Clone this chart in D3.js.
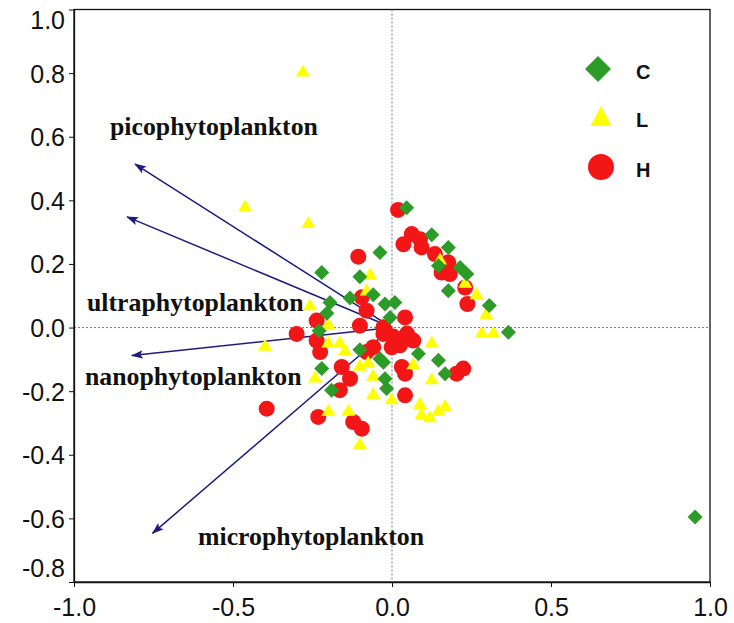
<!DOCTYPE html>
<html>
<head>
<meta charset="utf-8">
<script src="https://cdn.jsdelivr.net/npm/d3@7"></script>
<style>
  html, body { margin: 0; padding: 0; background: #fff; }
  svg { display: block; }
</style>
</head>
<body>
<svg id="chart" width="734" height="623"></svg>
<script>
// Ordination scores of samples, grouped by site class
const seriesNames = ["C", "L", "H"];
const seriesColors = ["#2d9b27", "#ffff00", "#f21616"];

const cPoints = [
  [0.953, -0.596], [0.046, 0.377], [0.125, 0.292], [0.177, 0.252], [0.146, 0.194],
  [0.214, 0.189], [0.235, 0.168], [0.177, 0.116], [0.306, 0.069], [0.366, -0.015],
  [-0.038, 0.236], [-0.022, 0.074], [0.009, 0.079], [-0.006, 0.032], [0.083, -0.082],
  [0.146, -0.103], [0.167, -0.145], [-0.022, -0.161], [-0.017, -0.192], [-0.221, 0.173],
  [-0.101, 0.160], [-0.132, 0.093], [-0.059, 0.103], [-0.195, 0.079], [-0.205, 0.045],
  [-0.229, -0.010], [-0.101, -0.070], [-0.038, -0.098], [-0.027, -0.109], [-0.221, -0.129],
  [-0.190, -0.197]
];

const lPoints = [
  [-0.280, 0.806], [-0.462, 0.382], [-0.263, 0.330], [-0.069, 0.168], [-0.080, 0.118],
  [-0.258, 0.071], [-0.200, 0.012], [0.151, 0.215], [0.230, 0.142], [0.266, 0.106],
  [0.296, 0.043], [0.282, -0.015], [0.319, -0.015], [0.125, -0.046], [0.067, -0.114],
  [0.125, -0.161], [-0.001, -0.224], [0.088, -0.239], [0.093, -0.271], [0.119, -0.281],
  [0.146, -0.260], [0.167, -0.245], [-0.399, -0.056], [-0.200, -0.046], [-0.164, -0.046],
  [-0.148, -0.070], [-0.075, -0.109], [-0.101, -0.119], [-0.242, -0.156], [-0.059, -0.150],
  [-0.059, -0.208], [-0.200, -0.260], [-0.137, -0.260], [-0.101, -0.365]
];

const hPoints = [
  [0.019, 0.370], [0.062, 0.294], [0.036, 0.262], [0.093, 0.252], [0.088, 0.278],
  [0.135, 0.231], [0.177, 0.205], [0.156, 0.173], [0.182, 0.168], [0.230, 0.126],
  [0.237, 0.074], [-0.106, 0.223], [-0.095, 0.095], [-0.080, 0.053], [-0.237, 0.022],
  [-0.101, 0.006], [-0.027, 0.001], [-0.300, -0.020], [-0.237, -0.041], [-0.226, -0.077],
  [-0.059, -0.062], [-0.080, -0.077], [-0.027, -0.020], [-0.001, -0.062], [0.015, -0.046],
  [-0.158, -0.124], [-0.132, -0.161], [-0.164, -0.197], [-0.394, -0.255], [-0.232, -0.281],
  [-0.122, -0.297], [-0.095, -0.318], [0.041, 0.032], [-0.022, -0.009], [0.067, -0.041],
  [0.025, -0.056], [0.031, -0.124], [0.041, -0.145], [0.203, -0.145], [0.224, -0.129],
  [0.041, -0.213], [0.003, -0.028], [0.047, -0.019]
];

// Size-class vectors
const vectorNames = ["picophytoplankton", "ultraphytoplankton", "nanophytoplankton", "microphytoplankton"];
const vectorEnds = [[-0.808, 0.514], [-0.833, 0.348], [-0.818, -0.088], [-0.753, -0.647]];

const xTicks = [-1.0, -0.5, 0.0, 0.5, 1.0];
const xTickLabels = ["-1.0", "-0.5", "0.0", "0.5", "1.0"];
const yTicks = [-0.8, -0.6, -0.4, -0.2, 0.0, 0.2, 0.4, 0.6, 0.8, 1.0];
const yTickLabels = ["-0.8", "-0.6", "-0.4", "-0.2", "0.0", "0.2", "0.4", "0.6", "0.8", "1.0"];

const svg = d3.select("#chart");
const x = d3.scaleLinear().domain([-1, 1]).range([74, 710]);
const y = d3.scaleLinear().domain([-0.8, 1.0]).range([582, 9.5]);

const tickFont = "Liberation Sans, Arial, sans-serif";

// Plot frame
svg.append("rect")
  .attr("x", x(-1)).attr("y", y(1))
  .attr("width", x(1) - x(-1)).attr("height", y(-0.8) - y(1))
  .attr("fill", "none").attr("stroke", "#111").attr("stroke-width", 1.3);

// Dotted zero lines
svg.append("line")
  .attr("x1", x(-1)).attr("x2", x(1)).attr("y1", y(0)).attr("y2", y(0))
  .attr("stroke", "#777").attr("stroke-width", 1).attr("stroke-dasharray", "2,2");
svg.append("line")
  .attr("x1", x(0)).attr("x2", x(0)).attr("y1", y(1)).attr("y2", y(-0.8))
  .attr("stroke", "#777").attr("stroke-width", 1).attr("stroke-dasharray", "2,2");

// Axes
const xAxis = svg.append("g")
  .attr("transform", `translate(0,${y(-0.8)})`)
  .call(d3.axisBottom(x).tickValues(xTicks).tickFormat((d, i) => xTickLabels[i]).tickSize(5).tickSizeOuter(0));
xAxis.select(".domain").attr("stroke", "#111").attr("stroke-width", 1.3);
xAxis.selectAll(".tick line").attr("stroke", "#111");
xAxis.selectAll(".tick text")
  .attr("font-family", tickFont).attr("font-size", 25).attr("fill", "#111")
  .attr("y", 34).attr("dy", 0);

const yAxis = svg.append("g")
  .attr("transform", `translate(${x(-1)},0)`)
  .call(d3.axisLeft(y).tickValues(yTicks).tickFormat((d, i) => yTickLabels[i]).tickSize(5).tickSizeOuter(0));
yAxis.select(".domain").attr("stroke", "#111").attr("stroke-width", 1.3);
yAxis.selectAll(".tick line").attr("stroke", "#111");
yAxis.selectAll(".tick text")
  .attr("font-family", tickFont).attr("font-size", 25).attr("fill", "#111")
  .attr("x", -9)
  .attr("dy", (d) => d === 1.0 ? "0.75em" : (d === -0.8 ? "-0.22em" : "0.36em"));

// Arrowhead marker
svg.append("defs").append("marker")
  .attr("id", "arrowhead")
  .attr("markerUnits", "userSpaceOnUse")
  .attr("viewBox", "0 -5 12 10")
  .attr("refX", 11).attr("refY", 0)
  .attr("markerWidth", 12).attr("markerHeight", 10)
  .attr("orient", "auto")
  .append("path")
  .attr("d", "M0,-4.2L12,0L0,4.2L2.5,0Z")
  .attr("fill", "#1c1c80");

svg.append("g").selectAll("line")
  .data(vectorEnds)
  .join("line")
  .attr("x1", x(0)).attr("y1", y(0))
  .attr("x2", (d) => x(d[0])).attr("y2", (d) => y(d[1]))
  .attr("stroke", "#1c1c80").attr("stroke-width", 1.5)
  .attr("marker-end", "url(#arrowhead)");

// Marker shapes
const diamond = (h) => `M0,${-h}L${h},0L0,${h}L${-h},0Z`;
const triangle = (w, hgt) => `M0,${-hgt * 0.55}L${w / 2},${hgt * 0.45}L${-w / 2},${hgt * 0.45}Z`;

// Red circles (H)
svg.append("g").selectAll("circle")
  .data(hPoints)
  .join("circle")
  .attr("cx", (d) => x(d[0])).attr("cy", (d) => y(d[1]))
  .attr("r", 8)
  .attr("fill", seriesColors[2]);

// Yellow triangles (L)
svg.append("g").selectAll("path")
  .data(lPoints)
  .join("path")
  .attr("transform", (d) => `translate(${x(d[0])},${y(d[1])})`)
  .attr("d", triangle(14, 12))
  .attr("fill", seriesColors[1]);

// Green diamonds (C)
svg.append("g").selectAll("path")
  .data(cPoints)
  .join("path")
  .attr("transform", (d) => `translate(${x(d[0])},${y(d[1])})`)
  .attr("d", diamond(7.5))
  .attr("fill", seriesColors[0]);

// Vector labels
const labelPos = [[110, 135], [87, 311], [85, 385], [198, 545]];
svg.append("g").selectAll("text")
  .data(vectorNames)
  .join("text")
  .attr("x", (d, i) => labelPos[i][0]).attr("y", (d, i) => labelPos[i][1])
  .attr("font-family", "Liberation Serif, Times New Roman, serif")
  .attr("font-weight", "bold").attr("font-size", 25.8)
  .attr("fill", "#111")
  .text((d) => d);

// Legend
const legend = svg.append("g");
const legendY = [69, 117, 167];
legend.append("path")
  .attr("transform", `translate(598,${legendY[0]})`)
  .attr("d", diamond(13)).attr("fill", seriesColors[0]);
legend.append("path")
  .attr("transform", `translate(601,${legendY[1]})`)
  .attr("d", triangle(21, 20)).attr("fill", seriesColors[1]);
legend.append("circle")
  .attr("cx", 601).attr("cy", legendY[2]).attr("r", 13)
  .attr("fill", seriesColors[2]);
legend.selectAll("text")
  .data(seriesNames)
  .join("text")
  .attr("x", 636).attr("y", (d, i) => legendY[i] + 3)
  .attr("dy", "0.35em")
  .attr("font-family", tickFont).attr("font-weight", "bold").attr("font-size", 20)
  .attr("fill", "#111")
  .text((d) => d);
</script>
</body>
</html>
